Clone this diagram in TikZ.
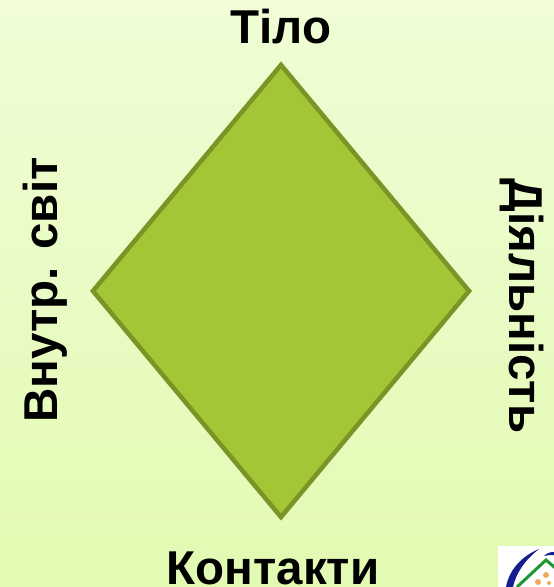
\documentclass[tikz,border=0pt]{standalone}
\usepackage{fontspec}
\setmainfont{Liberation Sans}
\usetikzlibrary{positioning,shapes.geometric}
\definecolor{pagetop}{RGB}{240,253,214}
\definecolor{pagebottom}{RGB}{226,250,178}
\definecolor{rhombfill}{RGB}{162,198,54}
\definecolor{rhombline}{RGB}{122,148,38}
\definecolor{logoblue}{RGB}{20,30,140}
\definecolor{logogreen}{RGB}{30,150,50}
\definecolor{logoorange}{RGB}{240,170,90}

\begin{document}
\begin{tikzpicture}[
  x=1pt,y=1pt,
  font=\fontsize{47.5}{50}\selectfont\bfseries,
  node distance=10pt,
  rhomb/.style={diamond,draw=rhombline,fill=rhombfill,line width=4.5pt,inner sep=0pt,minimum width=378pt,minimum height=454pt,aspect=0.83},
  side/.style={inner sep=0pt,text=black}
]
  % page
  \shade[top color=pagetop,bottom color=pagebottom] (0,0) rectangle (554,587);
  \useasboundingbox (0,0) rectangle (554,587);

  \node[rhomb] (body) at (281,296) {};
  \node[side,above=18pt of body.north] (top) {Тіло};
  \node[side,below=31pt of body.south,xshift=-8pt] (bottom) {Контакти};
  \node[side,rotate=90,anchor=south] (inner) at (68,297) {Внутр. світ};
  \node[side,rotate=-90,anchor=south] (work) at (500,281) {Діяльність};

  % logo in the corner
  \begin{scope}
    \clip (498,0) rectangle (554,41);
    \fill[white] (498,0) rectangle (554,41);
    \fill[logoblue] (539,38) .. controls (520,30) and (509,16) .. (506,0) -- (513,0) .. controls (516,14) and (525,27) .. (539,38);
    \draw[logogreen,line width=3pt] (517,0) -- (546,27) -- (560,15);
    \fill[logoblue] (544,31) .. controls (547,34) and (550,35) .. (554,35) -- (554,32) .. controls (550,32) and (547,32) .. (544,31);
    \fill[logoorange] (546,12) circle (3pt) (538,5) circle (3pt) (549,4) circle (2pt);
  \end{scope}
\end{tikzpicture}
\end{document}
